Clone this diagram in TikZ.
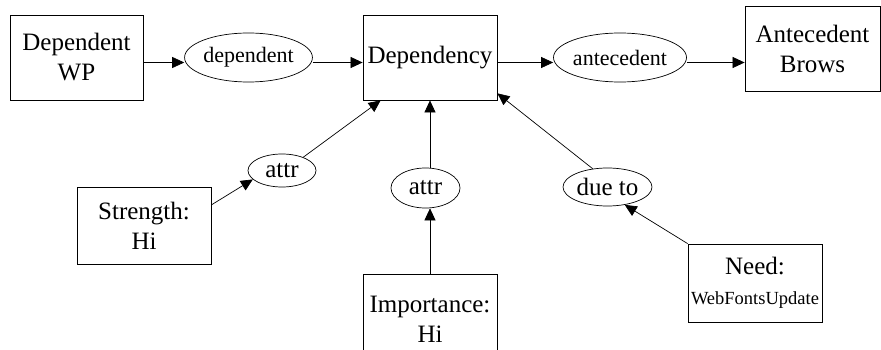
\documentclass[tikz,border=0pt]{standalone}
\usepackage{fontspec}
\setmainfont{Liberation Serif}
\usetikzlibrary{shapes.geometric,arrows.meta}
\tikzset{
  box/.style={draw, rectangle, inner sep=0pt, line width=0.8pt, align=center,
              font=\fontsize{25}{30}\selectfont},
  rel/.style={draw, ellipse, inner sep=0pt, line width=0.7pt,
              font=\fontsize{25}{30}\selectfont},
  relsm/.style={rel, font=\fontsize{22}{26}\selectfont},
  arr/.style={line width=0.7pt, -{Triangle[length=12pt,width=11pt]}},
  ln/.style={line width=0.7pt}
}
\begin{document}
\begin{tikzpicture}[x=1pt,y=-1pt]
\clip (0,0) rectangle (881,350);
\fill[white] (0,0) rectangle (881,350);
% boxes
\node[box, minimum width=133pt, minimum height=85pt] (wp) at (76.5,57.5) {Dependent\\WP};
\node[box, minimum width=134pt, minimum height=85pt] (dep) at (430,57.5) {Dependency};
\node[box, minimum width=135pt, minimum height=85pt] (ab) at (812.5,48.5) {Antecedent\\Brows};
\node[box, minimum width=134pt, minimum height=77pt] (sb) at (144,225.5) {Strength:\\Hi};
\node[box, minimum width=134pt, minimum height=90pt] (imp) at (430,319) {Importance:\\Hi};
\node[box, minimum width=134pt, minimum height=78pt] (need) at (755,283) {Need:\\{\fontsize{18.5}{22}\selectfont WebFontsUpdate}};
% ellipses
\node[relsm, minimum width=115pt, minimum height=49pt] (edep) at (248.5,57.5) {dependent};
\node[relsm, minimum width=114pt, minimum height=49pt] (eant) at (620,57.5) {antecedent};
\node[rel, minimum width=68pt, minimum height=33pt] (ea1) at (282,170.5) {attr};
\node[rel, minimum width=69pt, minimum height=40pt] (ea2) at (425.5,188) {attr};
\node[rel, minimum width=89pt, minimum height=38pt] (edue) at (607.5,187) {due to};
% connectors
\coordinate (antout) at ([yshift=-5pt]eant.east);
\draw[arr] ([yshift=-5pt]wp.east) -- ([yshift=-5pt]edep.west);
\draw[arr] ([yshift=-5pt]edep.east) -- ([yshift=-5pt]dep.west);
\draw[arr] ([yshift=-5pt]dep.east) -- ([yshift=-5pt]eant.west);
\draw[arr] (antout) -- (ab.west |- antout);
\draw[arr] (sb.17) -- (ea1.197);
\draw[arr] (ea1.32) -- (dep.221);
\draw[arr] (imp.north) -- (ea2.south -| imp.north);
\draw[arr] (ea2.north -| dep.south) -- (dep.south);
\draw[arr] (need.north west) -- (edue.-46);
\draw[arr] (edue.129) -- (dep.-28);
\end{tikzpicture}
\end{document}
